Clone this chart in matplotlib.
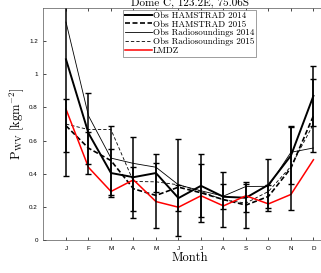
import matplotlib
matplotlib.use("Agg")
import matplotlib.pyplot as plt
import numpy as np

plt.rcParams['mathtext.fontset'] = 'cm'
plt.rcParams['font.family'] = ['cmr10', 'DejaVu Serif']
plt.rcParams['axes.formatter.use_mathtext'] = True

months = ["J", "F", "M", "A", "M", "J", "J", "A", "S", "O", "N", "D"]

ham14 = [1.09, 0.645, 0.405, 0.38, 0.405, 0.254, 0.328, 0.262, 0.256, 0.334, 0.51, 0.87]
ham14_err = [0.70, 0.245, 0.145, 0.245, 0.115, 0.08, 0.19, 0.075, 0.085, 0.155, 0.17, 0.18]
ham15 = [0.69, 0.555, 0.48, 0.31, 0.27, 0.32, 0.286, 0.245, 0.212, 0.264, 0.435, 0.75]
ham15_err = [0.16, 0.095, 0.206, 0.133, 0.195, 0.292, 0.175, 0.164, 0.14, 0.067, 0.255, 0.22]
rs14 = [1.315, 0.75, 0.495, 0.463, 0.44, 0.334, 0.298, 0.266, 0.324, 0.325, 0.53, 0.556]
rs15 = [0.70, 0.667, 0.667, 0.354, 0.352, 0.334, 0.294, 0.243, 0.224, 0.294, 0.445, 0.70]
lmdz = [0.79, 0.439, 0.294, 0.364, 0.233, 0.199, 0.268, 0.207, 0.268, 0.219, 0.276, 0.485]

x = np.arange(1, 13)

fig = plt.figure(figsize=(3.21, 2.73), dpi=100)
ax = fig.add_axes([0.1355, 0.12, 0.911, 0.851])

ax.plot(x, ham14, color="black", lw=1.4, label="Obs HAMSTRAD 2014")
ax.plot(x, ham15, color="black", lw=1.2, ls=(0, (3, 1.5)), label="Obs HAMSTRAD 2015")
ax.plot(x, rs14, color="black", lw=0.6, label="Obs Radiosoundings 2014")
ax.plot(x, rs15, color="black", lw=0.6, ls=(0, (4, 2.5)), label="Obs Radiosoundings 2015")
ax.plot(x, lmdz, color="red", lw=1.1, label="LMDZ")

ax.errorbar(x, ham14, yerr=ham14_err, fmt="none", ecolor="black", elinewidth=1.1, capsize=2.2, capthick=1.0)
ax.errorbar(x, ham15, yerr=ham15_err, fmt="none", ecolor="black", elinewidth=1.1, capsize=2.2, capthick=1.0)

ax.set_xlim(0, 13)
ax.set_ylim(0, 1.4)
ax.set_xticks(x)
ax.set_xticklabels(months, family="Liberation Sans", fontsize=4.5)
ax.set_yticks([0, 0.2, 0.4, 0.6, 0.8, 1.0, 1.2])
ax.set_yticklabels(["0", "0.2", "0.4", "0.6", "0.8", "1", "1.2"], family="Liberation Sans", fontsize=4.5)
ax.tick_params(direction="in", length=2.5, width=0.5, top=True, right=True, pad=4)
for s in ax.spines.values():
    s.set_linewidth(0.5)
    s.set_color("#555555")

ax.set_xlabel("Month", fontsize=9, labelpad=1)
ax.set_ylabel(r"$\mathrm{P_{WV}}\ [\mathrm{kg m^{-2}}]$", fontsize=9, labelpad=2)
ax.set_title("Dome C, 123.2E, 75.06S", fontsize=8, pad=1.5)

leg = ax.legend(loc="upper left", bbox_to_anchor=(0.272, 0.993), fontsize=6.5,
                handlelength=3.0, handletextpad=0.1, labelspacing=0.05,
                borderpad=0.2, borderaxespad=0, fancybox=False, framealpha=1)
leg.get_frame().set_edgecolor("#777777")
leg.get_frame().set_linewidth(0.5)

fig.savefig("out.png", dpi=100)
